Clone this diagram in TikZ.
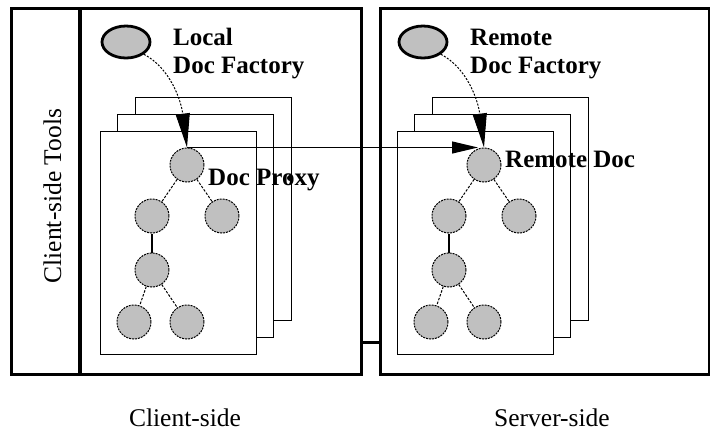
\documentclass[tikz,border=0pt]{standalone}
\usepackage{fontspec}
\setmainfont{Liberation Serif}
\usetikzlibrary{arrows.meta,shapes.geometric,calc}
\definecolor{docgray}{HTML}{C0C0C0}
\begin{document}
\begin{tikzpicture}[x=1pt,y=-1pt,
 frame/.style={draw, line width=3pt, inner sep=0, anchor=north west},
 page/.style={draw, fill=white, line width=1.2pt, inner sep=0, anchor=north west, minimum width=156pt, minimum height=223pt},
 docnode/.style={circle, draw, fill=docgray, dash pattern=on 2pt off 1pt, line width=1pt, minimum size=34pt, inner sep=0},
 factory/.style={ellipse, draw, fill=docgray, line width=2.8pt, minimum width=48pt, minimum height=32pt, inner sep=0},
 blabel/.style={font=\fontsize{25}{28}\selectfont\bfseries, inner sep=0, anchor=base west},
 rlabel/.style={font=\fontsize{25.5}{28}\selectfont, inner sep=0, anchor=base},
 tedge/.style={line width=1pt, dash pattern=on 2.5pt off 1.5pt},
 sedge/.style={line width=1.3pt},
 factarrow/.style={line width=1pt, dash pattern=on 2pt off 1.5pt, -{Triangle[length=34pt,width=14pt]}},
 linkarrow/.style={line width=1.2pt, shorten >=6pt, -{Triangle[length=26pt,width=12pt]}}
]
\useasboundingbox (0,0) rectangle (710,432);

% outer frames
\node[frame, minimum width=350pt, minimum height=366pt] (cbox) at (10,7) {};
\node[frame, minimum width=329pt, minimum height=366pt] (sbox) at (379,7) {};
\draw[line width=4pt] ([xshift=70pt]cbox.north west) -- ([xshift=70pt]cbox.south west);
\draw[line width=3pt] ([yshift=34pt]cbox.south east) -- ([yshift=34pt]sbox.south west);

% client pages
\node[page] (cp3) at (135,97) {};
\node[page] (cp2) at (117,114) {};
\node[page] (cp1) at (100,131) {};
% server pages
\node[page] (sp3) at (432,97) {};
\node[page] (sp2) at (414,114) {};
\node[page] (sp1) at (397,131) {};

% factories
\node[factory] (lfac) at (126,42) {};
\node[factory] (rfac) at (423,42) {};

% client tree
\node[docnode] (croot) at (187,165) {};
\node[docnode] (cl) at (152,216) {};
\node[docnode] (cr) at (222,216) {};
\node[docnode] (cm) at (152,270) {};
\node[docnode] (cbl) at (134,322) {};
\node[docnode] (cbr) at (187,322) {};
% server tree
\node[docnode] (sroot) at (484,165) {};
\node[docnode] (sl) at (449,216) {};
\node[docnode] (sr) at (519,216) {};
\node[docnode] (sm) at (449,270) {};
\node[docnode] (sbl) at (431,322) {};
\node[docnode] (sbr) at (484,322) {};

\draw[tedge] (croot) -- (cl);
\draw[tedge] (croot) -- (cr);
\draw[sedge] (cl) -- (cm);
\draw[tedge] (cm) -- (cbl);
\draw[tedge] (cm) -- (cbr);
\draw[tedge] (sroot) -- (sl);
\draw[tedge] (sroot) -- (sr);
\draw[sedge] (sl) -- (sm);
\draw[tedge] (sm) -- (sbl);
\draw[tedge] (sm) -- (sbr);

% arrows
\draw[factarrow] (lfac.south east) .. controls (170,68) and (181,100) .. (croot.north);
\draw[factarrow] (rfac.south east) .. controls (467,68) and (478,100) .. (sroot.north);
\draw[linkarrow] (croot.north) -- (sroot.north);

% labels
\node[blabel] (lf1) at (173,45) {Local};
\node[blabel] (lf2) at (173,73) {Doc Factory};
\node[blabel] (rf1) at (470,45) {Remote};
\node[blabel] (rf2) at (470,73) {Doc Factory};
\node[blabel] (dp) at (208,185) {Doc Proxy};
\node[blabel] (rd) at (505,167) {Remote Doc};
\node[circle, fill, inner sep=0, minimum size=6pt] (dot) at (290,178) {};

\node[rlabel, rotate=90] (tools) at (61,196) {Client-side Tools};
\node[rlabel] (cs) at (185,426) {Client-side};
\node[rlabel] (ss) at (552,426) {Server-side};
\end{tikzpicture}
\end{document}
